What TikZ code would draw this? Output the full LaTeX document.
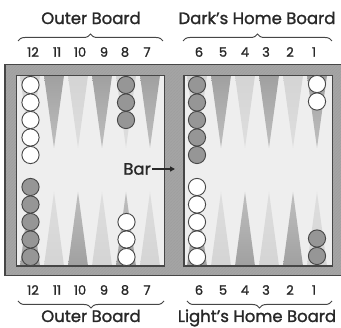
\documentclass[tikz,border=0pt]{standalone}
\usepackage{fontspec}
\setmainfont{Poppins}
\newfontfamily\boardfont{Poppins}[FakeBold=1.3]
\usetikzlibrary{arrows.meta, positioning, decorations.pathreplacing, patterns}
\definecolor{framegray}{RGB}{165, 165, 165}
\definecolor{fieldgray}{RGB}{238, 238, 238}
\definecolor{darkpoint}{RGB}{160, 160, 160}
\definecolor{lightpoint}{RGB}{212, 212, 212}
\definecolor{darkchecker}{RGB}{150, 150, 150}
\definecolor{rimgray}{RGB}{70, 70, 70}
\definecolor{inkgray}{RGB}{40, 40, 40}

\tikzset{
  whitechk/.style={fill=white, draw=rimgray, line width=0.9pt},
  darkchk/.style={fill=darkchecker, draw=rimgray, line width=0.9pt},
  ptnum/.style={font=\boardfont\fontsize{13}{13}\selectfont, text=inkgray},
  boardlbl/.style={font=\boardfont\fontsize{16.5}{16.5}\selectfont, text=inkgray},
  bracebar/.style={decorate, decoration={brace, amplitude=7pt}, line width=1pt, rimgray},
}

\begin{document}
\begin{tikzpicture}[x=1pt, y=-1pt]
        \useasboundingbox (0,0) rectangle (341,328);

        % frame and bar
        \fill[framegray] (5,65) rectangle (341,276);
        \fill[pattern=north east lines, pattern color=gray!75] (5,65) rectangle (341,276);
        \draw[rimgray, line width=1pt] (5,65) rectangle (341,276);

        % the two fields
        \fill[fieldgray] (16.5,75.5) rectangle (164.5,266);
        \fill[fieldgray] (184,75.5) rectangle (332.5,266);

        % points, top row (dark on odd index)
        \foreach \x [count=\i] in {30,54,78,102,126,150,197,221,245,269,293,317} {
          \pgfmathsetmacro{\shadeA}{ifthenelse(mod(\i,2)==0,"darkpoint","lightpoint")}
          \shade[top color=\shadeA, bottom color=\shadeA!60!fieldgray]
            (\x-10,75.5) -- (\x+10,75.5) -- (\x,148) -- cycle;
          \pgfmathsetmacro{\shadeB}{ifthenelse(mod(\i,2)==1,"darkpoint","lightpoint")}
          \shade[bottom color=\shadeB, top color=\shadeB!60!fieldgray]
            (\x-10,266) -- (\x+10,266) -- (\x,192) -- cycle;
        }

        \draw[rimgray, line width=1.1pt] (16.5,75.5) rectangle (164.5,266);
        \draw[rimgray, line width=1.1pt] (184,75.5) rectangle (332.5,266);

        % checkers, top half
        \foreach \k in {0,...,4} {
          \draw[whitechk] (30.5,85+17.5*\k) circle (8.6);
          \draw[darkchk] (197,85+17.5*\k) circle (8.6);
        }
        \foreach \k in {0,...,2}
          \draw[darkchk] (126,85+17.5*\k) circle (8.6);
        \foreach \k in {0,1}
          \draw[whitechk] (317,84+17.5*\k) circle (8.6);

        % checkers, bottom half
        \foreach \k in {0,...,4} {
          \draw[darkchk] (30.5,257-17.5*\k) circle (8.6);
          \draw[whitechk] (197,257-17.5*\k) circle (8.6);
        }
        \foreach \k in {0,...,2}
          \draw[whitechk] (126.5,257-17.5*\k) circle (8.6);
        \foreach \k in {0,1}
          \draw[darkchk] (317,256-17.5*\k) circle (8.6);

        % point numbers
        \foreach \n/\x in {12/33,11/57,10/80,9/104,8/125,7/147,
                           6/199,5/223,4/245,3/266,2/290,1/314} {
          \node[ptnum] (top\n) at (\x,52) {\n};
          \node[ptnum] (bot\n) at (\x,290) {\n};
        }

        % braces and board names
        \coordinate (tlA) at (18,41);  \coordinate (tlB) at (163,41);
        \coordinate (trA) at (183,41); \coordinate (trB) at (332,41);
        \coordinate (blA) at (18,301); \coordinate (blB) at (164,301);
        \coordinate (brA) at (187,301); \coordinate (brB) at (332,301);
        \draw[bracebar] (tlA) -- (tlB);
        \draw[bracebar] (trA) -- (trB);
        \draw[bracebar] (blB) -- (blA);
        \draw[bracebar] (brB) -- (brA);
        \node[boardlbl] (outerTop) at (91,18) {Outer Board};
        \node[boardlbl] (darkHome) at (257,18) {Dark’s Home Board};
        \node[boardlbl, anchor=base, inner sep=0pt] (outerBot) at (91,322) {Outer Board};
        \node[boardlbl, anchor=base, inner sep=0pt] (lightHome) at (257,322) {Light’s Home Board};

        % bar label
        \node[boardlbl, anchor=east, inner sep=1pt] (barlbl) at (152,169) {Bar};
        \coordinate (barpt) at (175,169);
        \draw[-{Triangle[length=5pt, width=5pt]}, inkgray, line width=1.3pt] (barlbl.east) -- (barpt);
      \end{tikzpicture}
\end{document}
